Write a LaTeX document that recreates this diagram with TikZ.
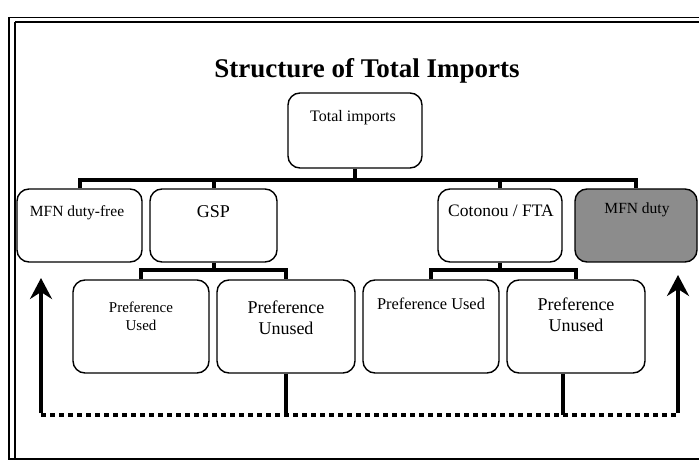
\documentclass[tikz,border=0pt]{standalone}
\usepackage{fontspec}
\setmainfont{Liberation Serif}
\usetikzlibrary{arrows.meta,calc}
\definecolor{mfngrey}{gray}{0.55}
\begin{document}
\begin{tikzpicture}[x=1pt,y=-1pt,
  box/.style={draw=black, line width=1.4pt, rounded corners=12pt, fill=white, inner sep=0pt},
  greybox/.style={box, fill=mfngrey},
  boxtext/.style={anchor=north, inner sep=0pt, align=center},
  conn/.style={draw=black, line width=4pt, line cap=butt, line join=miter},
  dotline/.style={draw=black, line width=4pt, dash pattern=on 5pt off 4pt},
  uparrow/.style={draw=black, line width=4pt, -{Stealth[length=21pt,width=22pt,inset=7pt]}},
  frameline/.style={draw=black, line width=1.4pt}
]
\useasboundingbox (0,0) rectangle (699,462);
\fill[white] (0,0) rectangle (699,462);

% frame
\draw[frameline] (9,17) -- (9,460);
\draw[frameline] (15,22) -- (15,460);
\draw[draw=black, line width=0.8pt] (9,17) -- (699,17);
\draw[draw=black, line width=2.2pt] (15,22) -- (699,22);
\draw[frameline] (9,459) -- (699,459);

% title
\node[anchor=base, inner sep=0pt, font=\fontsize{27}{32}\selectfont\bfseries] (title) at (367,78) {Structure of Total Imports};

% boxes
\node[box, minimum width=134pt, minimum height=75pt] (total) at (355,130.5) {};
\node[box, minimum width=125pt, minimum height=73pt] (mfnfree) at (79.5,225.5) {};
\node[box, minimum width=127pt, minimum height=73pt] (gsp) at (213.5,225.5) {};
\node[box, minimum width=124pt, minimum height=73pt] (cot) at (500,225.5) {};
\node[greybox, minimum width=122pt, minimum height=73pt] (mfnduty) at (636,225.5) {};
\node[box, minimum width=136pt, minimum height=93pt] (pu1) at (141,326.5) {};
\node[box, minimum width=138pt, minimum height=93pt] (pn1) at (286,326.5) {};
\node[box, minimum width=136pt, minimum height=93pt] (pu2) at (431,326.5) {};
\node[box, minimum width=138pt, minimum height=93pt] (pn2) at (576,326.5) {};

% texts
\node[boxtext, font=\fontsize{16}{19}\selectfont] (ttotal) at (353,110) {Total imports};
\node[boxtext, font=\fontsize{15.5}{18}\selectfont] (tmfnfree) at (77,205) {MFN duty-free};
\node[boxtext, font=\fontsize{18}{21}\selectfont] (tgsp) at (213.5,205) {GSP};
\node[boxtext, font=\fontsize{17.5}{21}\selectfont] (tcot) at (501,205) {Cotonou / FTA};
\node[boxtext, font=\fontsize{15.5}{18}\selectfont] (tmfnduty) at (637,203) {MFN duty};
\node[boxtext, font=\fontsize{15}{18}\selectfont] (tpu1) at (141,302) {Preference\\Used};
\node[boxtext, font=\fontsize{18}{20.5}\selectfont] (tpn1) at (286,301) {Preference\\Unused};
\node[boxtext, font=\fontsize{16.4}{19}\selectfont] (tpu2) at (431,298) {Preference Used};
\node[boxtext, font=\fontsize{18}{20.5}\selectfont] (tpn2) at (576,298) {Preference\\Unused};

% connector levels
\coordinate (bar1) at (0,180);
\coordinate (bar2) at (0,270);
\coordinate (dl) at (41,415);
\coordinate (dr) at (678,415);
\coordinate (la) at (41,278);
\coordinate (ra) at (678,275);

\draw[conn] (mfnfree.north) -- (mfnfree.north |- bar1) -- (mfnduty.north |- bar1) -- (mfnduty.north);
\draw[conn] (total.south) -- (total.south |- bar1);
\draw[conn] (gsp.north) -- (gsp.north |- bar1);
\draw[conn] (cot.north) -- (cot.north |- bar1);

\draw[conn] (pu1.north) -- (pu1.north |- bar2) -- (pn1.north |- bar2) -- (pn1.north);
\draw[conn] (gsp.south) -- (gsp.south |- bar2);
\draw[conn] (pu2.north) -- (pu2.north |- bar2) -- (pn2.north |- bar2) -- (pn2.north);
\draw[conn] (cot.south) -- (cot.south |- bar2);

% bottom feedback
\draw[dotline] (dl) -- (dr);
\draw[conn] (pn1.south) -- (pn1.south |- dl);
\draw[conn] ([xshift=-13pt]pn2.south) -- ([xshift=-13pt]pn2.south |- dl);
\draw[uparrow] ([yshift=2pt]dl) -- (la);
\draw[uparrow] ([yshift=2pt]dr) -- (ra);
\end{tikzpicture}
\end{document}
